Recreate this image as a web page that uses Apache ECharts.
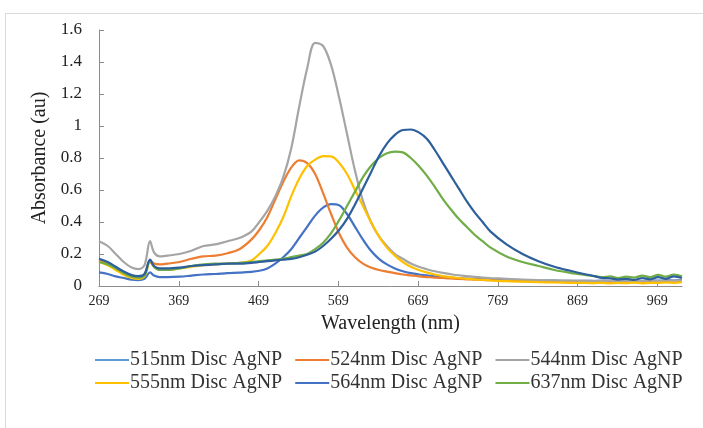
<!DOCTYPE html>
<html>
<head>
<meta charset="utf-8">
<script src="https://cdn.jsdelivr.net/npm/echarts@6/dist/echarts.min.js"></script>
<style>
html,body{margin:0;padding:0;background:#fff;}
#chart{width:703px;height:428px;}
</style>
</head>
<body>
<div id="chart"></div>
<script>
var wavelengths = [269,280,290,300,310,318,326,333,338,345,355,370,385,400,415,430,445,460,470,
  480,490,500,510,520,530,540,550,560,570,580,590,600,610,620,630,640,650,660,670,680,690,700,710,720,730,740,750,760,
  780,800,820,840,860,880,
  890,900,910,920,930,940,950,960,970,980,990,1000];

var seriesNames = ['515nm Disc AgNP','524nm Disc AgNP','544nm Disc AgNP','555nm Disc AgNP','564nm Disc AgNP','637nm Disc AgNP'];

var s515 = [0.17,0.15,0.12,0.09,0.068,0.062,0.075,0.165,0.125,0.11,0.11,0.115,0.125,0.13,0.135,0.14,0.14,0.145,0.15,
  0.155,0.16,0.165,0.17,0.18,0.195,0.215,0.25,0.295,0.35,0.42,0.51,0.61,0.71,0.81,0.89,0.945,0.975,0.978,0.96,0.92,0.85,0.77,0.69,0.61,0.53,0.46,0.40,0.34,
  0.26,0.20,0.155,0.12,0.095,0.072,
  0.062,0.05,0.048,0.04,0.045,0.038,0.05,0.042,0.055,0.045,0.06,0.05];

var s524 = [0.16,0.14,0.11,0.08,0.06,0.055,0.07,0.16,0.14,0.135,0.14,0.15,0.17,0.185,0.19,0.205,0.23,0.29,0.35,
  0.43,0.54,0.65,0.74,0.785,0.768,0.70,0.58,0.45,0.33,0.24,0.18,0.14,0.115,0.10,0.09,0.08,0.072,0.066,0.06,0.056,0.052,0.05,0.047,0.044,0.042,0.04,0.038,0.036,
  0.033,0.03,0.028,0.027,0.026,0.025,
  0.025,0.024,0.026,0.025,0.027,0.025,0.026,0.028,0.026,0.027,0.028,0.03];

var s544 = [0.28,0.25,0.20,0.15,0.115,0.105,0.13,0.28,0.21,0.185,0.19,0.20,0.22,0.25,0.26,0.28,0.30,0.34,0.40,
  0.47,0.56,0.68,0.86,1.12,1.36,1.52,1.50,1.38,1.18,0.95,0.72,0.53,0.40,0.31,0.25,0.20,0.17,0.14,0.12,0.105,0.092,0.082,0.074,0.067,0.062,0.057,0.053,0.05,
  0.045,0.04,0.037,0.035,0.033,0.032,
  0.032,0.031,0.032,0.03,0.031,0.032,0.03,0.033,0.031,0.034,0.032,0.035];

var s555 = [0.15,0.13,0.10,0.07,0.05,0.045,0.06,0.15,0.12,0.10,0.10,0.11,0.12,0.13,0.135,0.14,0.145,0.16,0.20,
  0.25,0.33,0.43,0.56,0.67,0.75,0.79,0.812,0.81,0.77,0.70,0.60,0.50,0.40,0.31,0.24,0.19,0.15,0.12,0.10,0.085,0.072,0.062,0.055,0.05,0.045,0.041,0.038,0.035,
  0.03,0.027,0.024,0.022,0.02,0.019,
  0.018,0.02,0.017,0.019,0.018,0.021,0.017,0.02,0.019,0.022,0.02,0.024];

var s564 = [0.085,0.075,0.06,0.05,0.04,0.037,0.045,0.085,0.065,0.055,0.055,0.058,0.065,0.072,0.075,0.08,0.083,0.088,0.095,
  0.11,0.14,0.18,0.23,0.30,0.37,0.44,0.49,0.512,0.505,0.45,0.37,0.29,0.22,0.17,0.135,0.11,0.092,0.08,0.072,0.066,0.06,0.056,0.052,0.049,0.046,0.044,0.042,0.04,
  0.038,0.036,0.034,0.033,0.032,0.032,
  0.031,0.033,0.03,0.032,0.031,0.034,0.032,0.035,0.033,0.036,0.034,0.037];

var s637 = [0.15,0.135,0.11,0.08,0.058,0.052,0.065,0.155,0.12,0.10,0.10,0.11,0.125,0.135,0.14,0.14,0.145,0.15,0.155,
  0.16,0.165,0.17,0.18,0.19,0.20,0.23,0.27,0.33,0.41,0.50,0.59,0.68,0.75,0.80,0.83,0.84,0.835,0.80,0.75,0.69,0.62,0.545,0.48,0.42,0.37,0.32,0.28,0.24,
  0.185,0.15,0.125,0.10,0.082,0.068,
  0.062,0.055,0.06,0.05,0.058,0.052,0.065,0.055,0.07,0.058,0.072,0.06];

var xTickLabels = [269,369,469,569,669,769,869,969];

var lineColors = ['#2d5f9c','#ed7d31','#a5a5a5','#ffc000','#4472c4','#70ad47'];
var legendColors = ['#5b9bd5','#ed7d31','#a5a5a5','#ffc000','#4472c4','#70ad47'];
var values = [s515,s524,s544,s555,s564,s637];
var drawOrder = [4,1,2,3,5,0];

var FONT = 'Liberation Serif';

function pairs(arr){ return wavelengths.map(function(w,i){ return [w, arr[i]]; }); }

var series = drawOrder.map(function(k){
  return {
    name: seriesNames[k], type:'line', data: pairs(values[k]),
    symbol:'none', smooth:0.35,
    lineStyle:{color:lineColors[k], width:2.2},
    itemStyle:{color:lineColors[k]}
  };
});

function legendItems(idx){
  return idx.map(function(k){
    return {name: seriesNames[k], icon:'rect',
      itemStyle:{color:legendColors[k], borderWidth:0},
      lineStyle:{color:legendColors[k], width:2.2}};
  });
}

function makeLegend(top, idx){
  return {
    left:90, top:top, orient:'horizontal',
    itemWidth:34, itemHeight:2, itemGap:13,
    selectedMode:false,
    textStyle:{fontFamily:FONT, fontSize:20, color:'#333', padding:[0,0,0,-4]},
    data: legendItems(idx)
  };
}

var chart = echarts.init(document.getElementById('chart'), null, {renderer:'canvas'});
chart.setOption({
  animation:false,
  backgroundColor:'#fff',
  graphic:[{type:'rect', shape:{x:5.5, y:13.5, width:760, height:500}, style:{fill:'none', stroke:'#d9d9d9', lineWidth:1}, silent:true, z:-10}],
  grid:{left:99, right:21, top:30, bottom:142},
  legend:[ makeLegend(345, [0,1,2]), makeLegend(368, [3,4,5]) ],
  xAxis:{
    type:'value', min:269, max:1000,
    name:'Wavelength (nm)', nameLocation:'middle', nameGap:28,
    nameTextStyle:{fontFamily:FONT, fontSize:20, color:'#222'},
    axisLine:{show:true, lineStyle:{color:'#8c8c8c', width:1}},
    axisTick:{show:true, inside:true, length:5, customValues:xTickLabels, lineStyle:{color:'#8c8c8c'}},
    axisLabel:{customValues:xTickLabels, fontFamily:FONT, fontSize:14, color:'#222', margin:8},
    splitLine:{show:false}
  },
  yAxis:{
    type:'value', min:0, max:1.6, interval:0.2,
    name:'Absorbance (au)', nameLocation:'middle', nameGap:49,
    nameTextStyle:{fontFamily:FONT, fontSize:20, color:'#222'},
    axisLine:{show:true, lineStyle:{color:'#8c8c8c', width:1}},
    axisTick:{show:true, inside:true, length:5, lineStyle:{color:'#8c8c8c'}},
    axisLabel:{fontFamily:FONT, fontSize:17, color:'#222', margin:17},
    splitLine:{show:false}
  },
  series: series
});
</script>
</body>
</html>
